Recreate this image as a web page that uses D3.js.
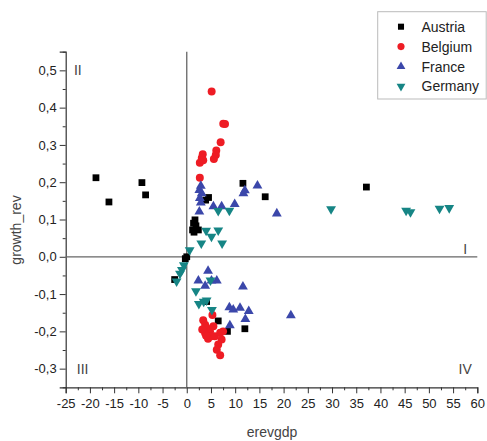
<!DOCTYPE html>
<html>
<head>
<meta charset="utf-8">
<script src="https://cdn.jsdelivr.net/npm/d3@7"></script>
<style>
  body { margin: 0; background: #fff; }
  text { font-family: "Liberation Sans", Arial, sans-serif; }
</style>
</head>
<body>
<svg id="chart" width="487" height="441"></svg>
<script>
// data: [erevgdp, growth_rev]
const austria = [[-18.75,0.212],[-16.07,0.147],[-9.26,0.199],[-8.5,0.166],[11.6,0.197],[16.2,0.161],[37.1,0.187],
  [3.9,0.152],[4.5,0.159],[1.7,0.099],[1.4,0.090],[1.2,0.072],[1.5,0.066],[2.4,0.072],[1.9,0.083],
  [0,0],[-0.3,-0.005],[-2.5,-0.061],[4.1,-0.12],[6.5,-0.172],[8.4,-0.2],[12.0,-0.193]];
const belgium = [[5.14,0.443],[7.54,0.357],[7.9,0.356],[7.0,0.307],[6.1,0.285],[6.0,0.273],[5.6,0.262],
  [3.3,0.275],[3.1,0.265],[2.7,0.252],[3.4,0.259],[2.7,0.212],
  [3.4,-0.17],[3.8,-0.182],[4.1,-0.191],[4.8,-0.2],[3.8,-0.205],[5.5,-0.186],[5.8,-0.213],[5.1,-0.213],
  [6.9,-0.204],[7.2,-0.222],[6.5,-0.235],[6.2,-0.249],[6.9,-0.264],[5.3,-0.156],[4.4,-0.22],[7.5,-0.2],
  [4.0,-0.212],[3.2,-0.195]];
const france = [[2.9,0.19],[2.6,0.179],[3.1,0.17],[2.7,0.157],[2.9,0.145],[2.6,0.121],[5.5,0.135],[7.2,0.135],
  [9.9,0.141],[11.7,0.17],[12.0,0.178],[14.6,0.191],[18.6,0.116],
  [4.4,-0.038],[2.4,-0.064],[5.1,-0.064],[6.2,-0.064],[3.8,-0.078],[11.6,-0.08],[8.8,-0.136],[9.6,-0.142],
  [11.0,-0.137],[12.8,-0.146],[12.1,-0.167],[8.9,-0.184],[21.5,-0.157]];
const germany = [[29.8,0.128],[45.3,0.124],[46.2,0.12],[52.2,0.129],[54.2,0.131],[6.5,0.123],[8.8,0.124],
  [4.0,0.07],[6.5,0.071],[5.1,0.054],[3.0,0.036],[7.3,0.036],[0.6,0.018],[-0.6,-0.022],[-1.0,-0.035],
  [-1.4,-0.045],[-2.1,-0.066],[1.9,-0.092],[2.5,-0.126],[3.5,-0.12],[4.1,-0.117],[5.2,-0.142],[4.9,-0.063]];

const seriesNames = ["Austria", "Belgium", "France", "Germany"];
const xTicks = d3.range(-25, 61, 5);
const yTicks = [-0.3, -0.2, -0.1, 0, 0.1, 0.2, 0.3, 0.4, 0.5];
const quadrants = [["II", -22.5, 0.5], ["I", 57.5, 0.02], ["III", -21.5, -0.3], ["IV", 57.5, -0.3]];

const svg = d3.select("#chart");
const x = d3.scaleLinear().domain([-25, 60]).range([65.7, 477.3]);
const y = d3.scaleLinear().domain([-0.35, 0.55]).range([387.3, 51.7]);

const fmt = v => d3.format(".1f")(v).replace(".", ",").replace("−", "-");

// axes
const xAxis = svg.append("g").attr("transform", `translate(0,${y(-0.35)})`)
  .call(d3.axisBottom(x).tickValues(xTicks).tickSize(6).tickPadding(5).tickFormat(d => d));
const xMinor = svg.append("g").attr("transform", `translate(0,${y(-0.35)})`)
  .call(d3.axisBottom(x).tickValues(d3.range(-22.5, 60, 5)).tickSize(3).tickFormat(""));
const yAxis = svg.append("g").attr("transform", `translate(${x(-25)},0)`)
  .call(d3.axisLeft(y).tickValues(yTicks).tickSize(6).tickPadding(3).tickFormat(fmt));
const yMinor = svg.append("g").attr("transform", `translate(${x(-25)},0)`)
  .call(d3.axisLeft(y).tickValues([-0.35, -0.25, -0.15, -0.05, 0.05, 0.15, 0.25, 0.35, 0.45, 0.55]).tickSize(3).tickFormat(""));

[xAxis, xMinor, yAxis, yMinor].forEach(a => {
  a.select(".domain").attr("stroke", "#333").attr("stroke-width", 1.2);
  a.selectAll(".tick line").attr("stroke", "#333");
  a.selectAll("text").attr("font-size", 13).attr("fill", "#222")
    .style("font-family", '"Liberation Sans", Arial, sans-serif');
});
xMinor.select(".domain").remove();
yMinor.select(".domain").remove();
yAxis.selectAll("text").text(d => fmt(d));

// reference lines through origin
svg.append("line").attr("x1", x(-25)).attr("x2", x(60)).attr("y1", y(0)).attr("y2", y(0))
  .attr("stroke", "#666").attr("stroke-width", 1.3);
svg.append("line").attr("x1", x(0)).attr("x2", x(0)).attr("y1", y(0.55)).attr("y2", y(-0.35))
  .attr("stroke", "#666").attr("stroke-width", 1.3);

// quadrant labels
svg.selectAll(".quad").data(quadrants).enter().append("text")
  .attr("class", "quad")
  .attr("x", d => x(d[1])).attr("y", d => y(d[2]) + 5)
  .attr("text-anchor", "middle").attr("font-size", 14).attr("fill", "#444")
  .text(d => d[0]);

// axis titles
svg.append("text").attr("x", 272).attr("y", 437).attr("text-anchor", "middle")
  .attr("font-size", 14).attr("fill", "#444").text("erevgdp");
svg.append("text").attr("transform", "translate(21,230) rotate(-90)").attr("text-anchor", "middle")
  .attr("font-size", 14).attr("fill", "#444").text("growth_rev");

const styles = [
  { data: austria, color: "#000000", symbol: d3.symbolSquare, size: 46, rot: 0 },
  { data: belgium, color: "#ee1c24", symbol: d3.symbolCircle, size: 50, rot: 0 },
  { data: france, color: "#3b47aa", symbol: d3.symbolTriangle, size: 42, rot: 0 },
  { data: germany, color: "#168585", symbol: d3.symbolTriangle, size: 42, rot: 180 }
];

styles.forEach(s => {
  const path = d3.symbol().type(s.symbol).size(s.size)();
  svg.append("g").selectAll("path").data(s.data).enter().append("path")
    .attr("d", path)
    .attr("transform", d => `translate(${x(d[0])},${y(d[1])}) rotate(${s.rot})`)
    .attr("fill", s.color);
});

// legend
const lg = svg.append("g");
lg.append("rect").attr("x", 377.7).attr("y", 11.7).attr("width", 108.5).attr("height", 87.3)
  .attr("fill", "#fff").attr("stroke", "#bbb").attr("stroke-width", 1);
seriesNames.forEach((name, i) => {
  const s = styles[i];
  const cy = 26.7 + i * 19.9;
  lg.append("path").attr("d", d3.symbol().type(s.symbol).size(s.size * 0.8)())
    .attr("transform", `translate(401,${cy}) rotate(${s.rot})`).attr("fill", s.color);
  lg.append("text").attr("x", 421.5).attr("y", cy + 5).attr("font-size", 14).attr("fill", "#222").text(name);
});
</script>
</body>
</html>
